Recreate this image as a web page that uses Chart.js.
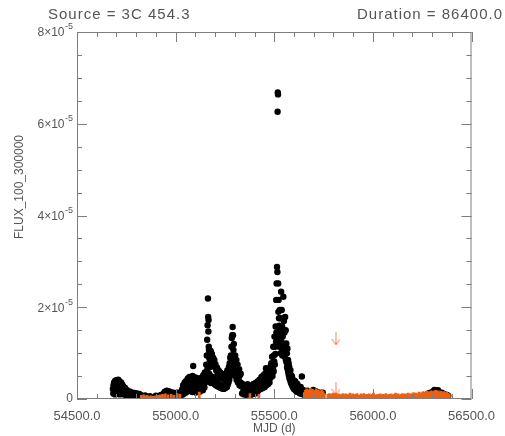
<!DOCTYPE html>
<html>
<head>
<meta charset="utf-8">
<script src="https://cdn.jsdelivr.net/npm/chart.js@4.4.1/dist/chart.umd.min.js"></script>
<style>
  html, body { margin: 0; padding: 0; background: #fff; }
</style>
</head>
<body>
<canvas id="lc" width="505" height="436"></canvas>
<script>
// flux values are in units of 1e-5 (same as the y axis labels)
const detMjd = [
  54682, 54685, 54688, 54691, 54694, 54697, 54700, 54703, 54706, 54709, 54712, 54715, 54718,
  54721, 54724, 54727, 54730, 54733, 54736, 54740, 54744, 54748, 54752, 54756, 54760,
  54765, 54770, 54775, 54780, 54786, 54792, 54798, 54804, 54810, 54816, 54822, 54828,
  54845, 54870, 54900, 54925,
  54940, 54945, 54950, 54955, 54960, 54965, 54970, 54976, 54982, 54988, 54994, 55000,
  55006, 55012, 55018, 55024, 55030,
  55034, 55038, 55042, 55046, 55050, 55054, 55058, 55062, 55066, 55070, 55074, 55078,
  55082, 55086, 55089, 55092, 55096, 55100, 55104, 55108, 55112, 55116, 55120, 55124,
  55128, 55132, 55136, 55140, 55144, 55148, 55152,
  55155, 55158, 55160, 55162, 55164, 55165, 55166, 55167, 55168, 55169, 55171, 55173, 55175,
  55178, 55181, 55184, 55187, 55190, 55193, 55196, 55199, 55202, 55206, 55210, 55214,
  55218, 55222, 55226, 55230, 55234, 55238, 55242, 55246, 55250, 55254, 55258, 55262,
  55266, 55270, 55274, 55277,
  55280, 55283, 55285, 55287, 55289, 55291, 55293, 55295, 55297, 55299, 55302, 55305,
  55308, 55311, 55314, 55318, 55322, 55326, 55330,
  55335, 55340, 55345, 55350, 55355, 55360, 55365, 55370, 55375, 55380, 55385, 55390,
  55395, 55400, 55405, 55410, 55415, 55420,
  55425, 55430, 55435, 55440, 55445, 55450, 55455, 55458, 55462, 55466, 55470, 55474,
  55478, 55482, 55485, 55489, 55492, 55495, 55498, 55501, 55504, 55507, 55510, 55512,
  55514, 55516, 55517, 55518, 55519, 55520, 55522, 55524, 55526, 55528, 55530, 55532,
  55535, 55538, 55540, 55543, 55546, 55549, 55552, 55555, 55558, 55561, 55564, 55567,
  55570, 55573, 55576, 55579, 55582, 55586, 55590, 55594, 55598, 55602, 55607, 55612,
  55617, 55623, 55628, 55634, 55640, 55645, 55650, 55657,
  55662, 55668, 55674, 55680, 55686, 55692, 55698, 55704, 55710, 55716, 55722, 55728,
  55734, 55740, 55746,
  56270, 56278, 56286, 56294, 56300, 56306, 56312, 56318, 56324, 56330, 56336, 56342,
  56350, 56358, 56366, 56374, 56382
];
const detFlux = [
  0.22, 0.30, 0.36, 0.27, 0.40, 0.33, 0.41, 0.29, 0.38, 0.42, 0.31, 0.39, 0.34,
  0.26, 0.36, 0.28, 0.31, 0.22, 0.27, 0.20, 0.24, 0.16, 0.20, 0.14, 0.17,
  0.12, 0.16, 0.11, 0.14, 0.10, 0.13, 0.09, 0.12, 0.08, 0.11, 0.09, 0.07,
  0.08, 0.06, 0.07, 0.09,
  0.12, 0.16, 0.13, 0.18, 0.14, 0.17, 0.12, 0.15, 0.11, 0.14, 0.10, 0.13,
  0.11, 0.14, 0.10, 0.13, 0.17,
  0.22, 0.30, 0.26, 0.36, 0.29, 0.40, 0.33, 0.45, 0.38, 0.48, 0.35, 0.42,
  0.30, 0.50, 0.72, 0.44, 0.36, 0.47, 0.31, 0.40, 0.45, 0.34, 0.42, 0.37,
  0.46, 0.33, 0.44, 0.52, 0.40, 0.58, 0.48,
  0.75, 0.95, 1.29, 1.61, 2.19, 1.79, 1.47, 1.72, 1.14, 1.07, 0.89, 0.80, 0.70,
  1.05, 0.92, 0.98, 0.85, 0.90, 0.78, 0.85, 0.70, 0.76, 0.62, 0.68, 0.55,
  0.62, 0.50, 0.58, 0.46, 0.55, 0.45, 0.52, 0.42, 0.48, 0.52, 0.56, 0.62,
  0.58, 0.70, 0.78, 0.90,
  0.95, 1.14, 1.33, 1.39, 1.57, 1.39, 1.07, 1.20, 0.92, 0.90, 0.95, 0.80,
  0.85, 0.70, 0.75, 0.62, 0.65, 0.52, 0.55,
  0.34, 0.26, 0.31, 0.22, 0.29, 0.24, 0.32, 0.21, 0.28, 0.23, 0.30, 0.25,
  0.33, 0.27, 0.35, 0.30, 0.38, 0.33,
  0.42, 0.35, 0.48, 0.40, 0.52, 0.44, 0.56, 0.67, 0.50, 0.60, 0.52, 0.65,
  0.58, 0.72, 0.78, 0.92, 0.74, 1.14, 0.95, 1.36, 1.14, 1.58, 2.16, 2.52,
  2.88, 2.77, 6.26, 6.68, 6.64, 2.52, 2.16, 1.76, 1.14, 1.94, 1.50, 1.76,
  2.34, 1.94, 1.58, 1.36, 2.23, 1.70, 1.45, 1.79, 1.50, 1.21, 1.00, 1.10,
  0.85, 0.78, 0.70, 0.58, 0.63, 0.52, 0.49, 0.42, 0.36, 0.40, 0.38, 0.30,
  0.33, 0.27, 0.24, 0.26, 0.49, 0.20, 0.18, 0.16,
  0.14, 0.18, 0.12, 0.16, 0.11, 0.15, 0.20, 0.13, 0.17, 0.12, 0.15, 0.10,
  0.13, 0.11, 0.14,
  0.08, 0.11, 0.13, 0.12, 0.15, 0.17, 0.20, 0.18, 0.16, 0.19, 0.15, 0.13,
  0.14, 0.11, 0.10, 0.09, 0.07
];

// fainter daily detections that fill the lower part of each active spell
const fillMjd = [
  54684, 54689, 54693, 54696, 54701, 54705, 54708, 54713, 54717, 54720, 54725, 54729,
  54732, 54738, 54742, 54747, 54754, 54758, 54763, 54772, 54778, 54788, 54796,
  54942, 54948, 54958, 54968, 54980, 54990, 55002, 55015, 55027,
  55036, 55040, 55044, 55048, 55052, 55056, 55060, 55064, 55068, 55072,
  55076, 55080, 55084, 55088, 55094, 55098, 55102, 55106, 55110, 55114,
  55118, 55122, 55126, 55130, 55134, 55138, 55142, 55146, 55150,
  55153, 55157, 55161, 55163, 55170, 55172, 55174, 55176, 55179, 55182,
  55186, 55189, 55192, 55195, 55198, 55201, 55204, 55208, 55212, 55216,
  55220, 55224, 55228, 55232, 55236, 55240, 55244, 55248, 55252, 55256,
  55260, 55264, 55268, 55272, 55276,
  55281, 55284, 55286, 55288, 55290, 55292, 55294, 55296, 55298, 55300,
  55303, 55306, 55309, 55312, 55316, 55320, 55324, 55328, 55332,
  55337, 55342, 55347, 55352, 55357, 55362, 55367, 55372, 55377, 55382,
  55387, 55392, 55397, 55402, 55407, 55412, 55417,
  55423, 55427, 55432, 55437, 55442, 55447, 55452, 55457, 55460, 55464,
  55468, 55472, 55476, 55480, 55483, 55487, 55491, 55494, 55497, 55500,
  55503, 55506, 55509, 55511,
  55521, 55523, 55525, 55527, 55529, 55531, 55533, 55536, 55539, 55541,
  55544, 55547, 55550, 55553, 55556, 55559, 55562, 55565, 55568, 55571,
  55574, 55577, 55580, 55584, 55588, 55592, 55596, 55600, 55605, 55610,
  55615, 55620, 55626, 55631, 55637, 55643, 55648, 55654
];
const fillFlux = [
  0.12, 0.18, 0.10, 0.22, 0.15, 0.24, 0.13, 0.20, 0.10, 0.18, 0.14, 0.20,
  0.11, 0.16, 0.09, 0.12, 0.08, 0.11, 0.06, 0.08, 0.05, 0.06, 0.04,
  0.06, 0.08, 0.05, 0.07, 0.05, 0.07, 0.05, 0.06, 0.08,
  0.10, 0.16, 0.12, 0.20, 0.14, 0.24, 0.17, 0.27, 0.20, 0.30,
  0.18, 0.25, 0.15, 0.28, 0.20, 0.26, 0.14, 0.22, 0.28, 0.18,
  0.24, 0.16, 0.29, 0.21, 0.27, 0.19, 0.32, 0.25, 0.36,
  0.40, 0.52, 0.65, 0.95, 0.55, 0.45, 0.38, 0.50, 0.35, 0.42,
  0.40, 0.48, 0.36, 0.43, 0.32, 0.40, 0.30, 0.36, 0.28, 0.34,
  0.26, 0.31, 0.24, 0.30, 0.23, 0.28, 0.22, 0.27, 0.24, 0.30,
  0.26, 0.31, 0.36, 0.42, 0.50,
  0.60, 0.75, 0.55, 0.85, 0.65, 0.80, 0.58, 0.70, 0.60, 0.65,
  0.50, 0.55, 0.42, 0.48, 0.36, 0.42, 0.30, 0.36, 0.28,
  0.12, 0.15, 0.10, 0.13, 0.09, 0.14, 0.11, 0.10, 0.13, 0.09,
  0.14, 0.11, 0.15, 0.12, 0.16, 0.13, 0.18,
  0.20, 0.26, 0.22, 0.29, 0.24, 0.32, 0.26, 0.35, 0.30, 0.38,
  0.32, 0.42, 0.36, 0.46, 0.48, 0.55, 0.50, 0.65, 0.60, 0.82,
  0.75, 0.98, 1.25, 1.45,
  1.90, 1.40, 1.60, 1.30, 1.20, 1.45, 1.00, 1.25, 1.10, 0.95,
  1.15, 1.00, 1.20, 0.92, 1.05, 0.85, 0.80, 0.70, 0.65, 0.58,
  0.52, 0.45, 0.42, 0.36, 0.32, 0.28, 0.25, 0.22, 0.20, 0.18,
  0.16, 0.15, 0.14, 0.12, 0.13, 0.11, 0.10, 0.09
];

// upper limits (drawn as orange bars from zero)
const ulMjd = [
  54826, 54832, 54838, 54844, 54850, 54856, 54862, 54868, 54874, 54880, 54886, 54892,
  54898, 54904, 54910, 54916, 54922, 54928, 54934, 54948, 54962, 54978, 54992, 55008,
  55022, 55120, 55377, 55422,
  55652, 55658, 55664, 55670, 55676, 55682, 55688, 55694, 55700, 55706, 55712, 55718,
  55724, 55730, 55736, 55742, 55748, 55754,
  55772, 55779, 55786, 55793, 55800, 55807, 55814, 55821, 55828, 55835, 55842, 55849,
  55856, 55863, 55870, 55877, 55884, 55891, 55898, 55905, 55912, 55919, 55926, 55933,
  55940, 55947, 55954, 55961, 55968, 55975, 55982, 55989, 55996, 56003, 56010, 56017,
  56024, 56031, 56038, 56045, 56052, 56059, 56066, 56073, 56080, 56087, 56094, 56101,
  56108, 56115, 56122, 56129, 56136, 56143, 56150, 56157, 56164, 56171, 56178, 56185,
  56192, 56199, 56206, 56213, 56220, 56227, 56234, 56241, 56248, 56255, 56262, 56269,
  56276, 56283, 56290, 56297, 56304, 56311, 56318, 56325, 56332, 56339, 56346, 56353,
  56360, 56367, 56374, 56381, 56388
];
const ulFlux = [
  0.08, 0.06, 0.09, 0.07, 0.05, 0.08, 0.06, 0.04, 0.07, 0.05, 0.06, 0.04,
  0.07, 0.05, 0.08, 0.06, 0.09, 0.07, 0.10, 0.11, 0.09, 0.10, 0.08, 0.12,
  0.10, 0.15, 0.12, 0.10,
  0.14, 0.19, 0.22, 0.16, 0.20, 0.23, 0.18, 0.21, 0.15, 0.19, 0.22, 0.17,
  0.20, 0.14, 0.18, 0.21, 0.16, 0.12,
  0.10, 0.12, 0.09, 0.11, 0.13, 0.10, 0.12, 0.09, 0.11, 0.08, 0.10, 0.12,
  0.09, 0.11, 0.08, 0.10, 0.13, 0.09, 0.11, 0.08, 0.10, 0.12, 0.09, 0.08,
  0.11, 0.09, 0.12, 0.08, 0.10, 0.09, 0.11, 0.08, 0.10, 0.13, 0.09, 0.08,
  0.10, 0.09, 0.11, 0.08, 0.10, 0.09, 0.12, 0.08, 0.10, 0.09, 0.11, 0.08,
  0.10, 0.13, 0.09, 0.11, 0.08, 0.10, 0.12, 0.09, 0.11, 0.10, 0.13, 0.09,
  0.12, 0.10, 0.14, 0.11, 0.13, 0.10, 0.15, 0.12, 0.14, 0.16, 0.13, 0.15,
  0.17, 0.14, 0.16, 0.18, 0.15, 0.17, 0.19, 0.16, 0.18, 0.15, 0.17, 0.14,
  0.16, 0.13, 0.15, 0.12, 0.11
];

// the two arrow-style upper limits
const arrowMjd = [55813, 55813];
const arrowFlux = [1.46, 0.37];

const yMajorLabels = ["0", "2", "4", "6", "8"];
const xMajorStep = 500;

const textColor = "#555";
const frameColor = "#7d7d7d";

// arrow glyph, top of the arrow sits on the data point
function makeArrow() {
  const c = document.createElement("canvas");
  c.width = 9;
  c.height = 28;
  const g = c.getContext("2d");
  g.strokeStyle = "#f2825c";
  g.lineWidth = 1;
  g.beginPath();
  g.moveTo(4.5, 14);
  g.lineTo(4.5, 27);
  g.moveTo(0.5, 21);
  g.lineTo(4.5, 27);
  g.lineTo(8.5, 21);
  g.stroke();
  return c;
}

// frame, inward ticks and all labels drawn like the IDL plot
const framePlugin = {
  id: "frame",
  afterDraw(chart) {
    const { ctx, chartArea: a, scales } = chart;
    const xs = scales.x, ys = scales.y;
    ctx.save();
    ctx.strokeStyle = frameColor;
    ctx.lineWidth = 1;
    ctx.strokeRect(a.left + 0.5, a.top + 0.5, a.right - a.left - 1, a.bottom - a.top - 1);
    ctx.beginPath();
    xs.ticks.forEach(t => {
      const px = Math.round(xs.getPixelForValue(t.value)) + 0.5;
      const len = t.value % xMajorStep === 0 ? 10 : 5;
      ctx.moveTo(px, a.bottom); ctx.lineTo(px, a.bottom - len);
      ctx.moveTo(px, a.top); ctx.lineTo(px, a.top + len);
    });
    ys.ticks.forEach(t => {
      const py = Math.round(ys.getPixelForValue(t.value)) + 0.5;
      const len = t.value % 2 === 0 ? 10 : 5;
      ctx.moveTo(a.left, py); ctx.lineTo(a.left + len, py);
      ctx.moveTo(a.right, py); ctx.lineTo(a.right - len, py);
    });
    ctx.stroke();

    ctx.fillStyle = textColor;
    // y labels with superscript exponent
    ys.ticks.forEach(t => {
      if (t.value % 2 !== 0) return;
      const lab = yMajorLabels[t.value / 2];
      const py = ys.getPixelForValue(t.value);
      const right = a.left - 4;
      ctx.textBaseline = "middle";
      ctx.textAlign = "right";
      if (lab === "0") {
        ctx.font = "12px 'Liberation Sans', sans-serif";
        ctx.fillText(lab, right, py);
        return;
      }
      ctx.font = "9px 'Liberation Sans', sans-serif";
      const sup = "-5";
      const sw = ctx.measureText(sup).width;
      ctx.fillText(sup, right, py - 5);
      ctx.font = "12px 'Liberation Sans', sans-serif";
      ctx.fillText(lab + "\u00d710", right - sw - 0.5, py + 1);
    });

    // header
    ctx.font = "15px 'Liberation Sans', sans-serif";
    ctx.letterSpacing = "1px";
    ctx.textBaseline = "middle";
    ctx.textAlign = "left";
    ctx.fillText("Source = 3C 454.3", 48, 15);
    ctx.textAlign = "right";
    ctx.fillText("Duration = 86400.0", 503, 15);
    ctx.letterSpacing = "0px";

    // axis titles
    ctx.font = "12px 'Liberation Sans', sans-serif";
    ctx.textAlign = "center";
    ctx.fillText("MJD (d)", (a.left + a.right) / 2, 429);
    ctx.save();
    ctx.translate(20, 187);
    ctx.rotate(-Math.PI / 2);
    ctx.fillText("FLUX_100_300000", 0, 0);
    ctx.restore();
    ctx.restore();
  }
};

const detections = detMjd.map((m, i) => ({ x: m, y: detFlux[i] }))
  .concat(fillMjd.map((m, i) => ({ x: m, y: fillFlux[i] })));
const limits = ulMjd.map((m, i) => ({ x: m, y: ulFlux[i] }));
const arrows = arrowMjd.map((m, i) => ({ x: m, y: arrowFlux[i] }));

new Chart(document.getElementById("lc"), {
  type: "scatter",
  data: {
    datasets: [
      {
        type: "bar",
        data: limits,
        backgroundColor: "#ef5f10",
        barThickness: 2,
        grouped: false,
        order: 0
      },
      {
        data: arrows,
        pointStyle: makeArrow(),
        pointRadius: 5,
        order: 1
      },
      {
        data: detections,
        backgroundColor: "#000",
        borderWidth: 0,
        pointRadius: 3.2,
        order: 2
      }
    ]
  },
  options: {
    responsive: false,
    animation: false,
    events: [],
    layout: { padding: { top: 32, right: 31, left: 0, bottom: 0 } },
    plugins: { legend: { display: false }, tooltip: { enabled: false } },
    scales: {
      x: {
        type: "linear",
        min: 54500,
        max: 56500,
        offset: false,
        grid: { display: false, drawTicks: false },
        border: { display: false },
        afterFit: s => { s.height = 37; },
        ticks: {
          stepSize: 100,
          autoSkip: false,
          maxRotation: 0,
          padding: 10,
          color: textColor,
          font: { family: "'Liberation Sans', sans-serif", size: 13 },
          callback: v => (v % xMajorStep === 0 ? v.toFixed(1) : "")
        }
      },
      y: {
        min: 0,
        max: 8,
        grid: { display: false, drawTicks: false },
        border: { display: false },
        afterFit: s => { s.width = 77; },
        ticks: { stepSize: 0.5, display: false }
      }
    }
  },
  plugins: [framePlugin]
});
</script>
</body>
</html>
